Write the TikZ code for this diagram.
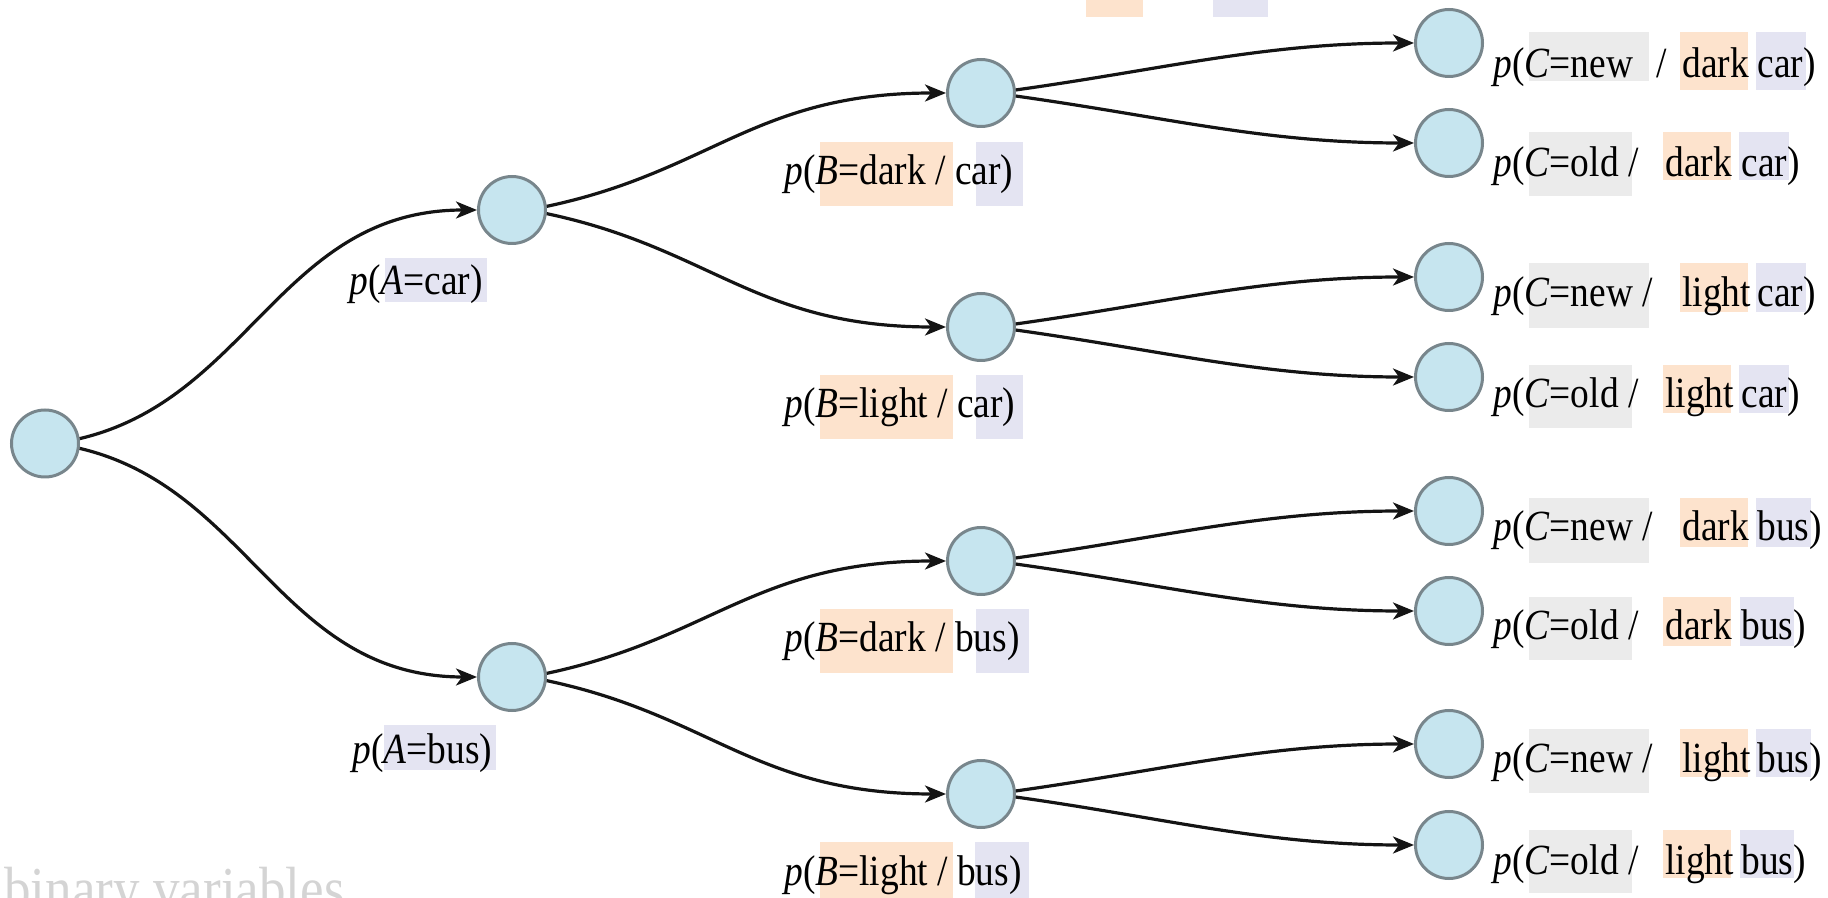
\documentclass[tikz,border=0pt]{standalone}
\usepackage{fontspec}
\setmainfont{Liberation Serif}[FakeStretch=0.87]
\usetikzlibrary{arrows.meta}
\definecolor{nodefill}{RGB}{198,229,239}
\definecolor{nodeline}{RGB}{120,134,140}
\definecolor{hlorange}{RGB}{253,227,205}
\definecolor{hlviolet}{RGB}{228,228,242}
\definecolor{hlgrey}{RGB}{235,235,235}
\definecolor{faint}{RGB}{212,212,212}
\begin{document}
\begin{tikzpicture}[x=0.5pt,y=-0.5pt,
  vnode/.style={circle, draw=nodeline, fill=nodefill, line width=1.5pt,
                minimum size=33.5pt, inner sep=0pt},
  branch/.style={line width=1.6pt, draw=black!92,
                 -{Stealth[length=10.5pt,width=8.5pt,inset=3pt]}},
  lbl/.style={anchor=base west, inner sep=0pt,
              font=\fontsize{21.5pt}{24pt}\selectfont},
]
\clip (0,0) rectangle (1828,898);

% ---------- highlight boxes behind the labels ----------
\fill[hlorange] (1086,0) rectangle (1143,17);
\fill[hlviolet] (1213,0) rectangle (1268,17);

% level A
\fill[hlviolet] (385,258) rectangle (487,302);
\fill[hlviolet] (384,725) rectangle (496,770);

% level B
\fill[hlorange] (820,142) rectangle (953,206);
\fill[hlviolet] (976,142) rectangle (1023,206);
\fill[hlorange] (820,375) rectangle (953,439);
\fill[hlviolet] (976,375) rectangle (1023,439);
\fill[hlorange] (820,609) rectangle (953,673);
\fill[hlviolet] (976,609) rectangle (1029,673);
\fill[hlorange] (820,842) rectangle (953,906);
\fill[hlviolet] (975,842) rectangle (1029,906);

% level C
\fill[hlgrey]   (1529,32) rectangle (1649,81);
\fill[hlorange] (1680,32) rectangle (1748,90);
\fill[hlviolet] (1756,32) rectangle (1806,90);

\fill[hlgrey]   (1529,132) rectangle (1632,196);
\fill[hlorange] (1663,132) rectangle (1731,180);
\fill[hlviolet] (1739,132) rectangle (1789,180);

\fill[hlgrey]   (1529,263) rectangle (1649,328);
\fill[hlorange] (1680,263) rectangle (1748,312);
\fill[hlviolet] (1756,263) rectangle (1806,312);

\fill[hlgrey]   (1529,365) rectangle (1632,428);
\fill[hlorange] (1663,365) rectangle (1731,413);
\fill[hlviolet] (1739,365) rectangle (1789,413);

\fill[hlgrey]   (1529,498) rectangle (1649,563);
\fill[hlorange] (1680,498) rectangle (1748,547);
\fill[hlviolet] (1756,498) rectangle (1811,547);

\fill[hlgrey]   (1529,597) rectangle (1632,660);
\fill[hlorange] (1663,597) rectangle (1731,646);
\fill[hlviolet] (1740,597) rectangle (1794,646);

\fill[hlgrey]   (1529,729) rectangle (1649,793);
\fill[hlorange] (1680,729) rectangle (1748,777);
\fill[hlviolet] (1756,729) rectangle (1811,777);

\fill[hlgrey]   (1529,830) rectangle (1632,893);
\fill[hlorange] (1663,830) rectangle (1731,878);
\fill[hlviolet] (1740,830) rectangle (1794,878);

% ---------- tree nodes ----------
\node[vnode] (r)  at (45,443.5) {};
\node[vnode] (a1) at (512,210) {};
\node[vnode] (a2) at (512,677) {};
\node[vnode] (b1) at (981,93) {};
\node[vnode] (b2) at (981,327) {};
\node[vnode] (b3) at (981,561) {};
\node[vnode] (b4) at (981,794) {};
\node[vnode] (c1) at (1449,43) {};
\node[vnode] (c2) at (1449,143) {};
\node[vnode] (c3) at (1449,277) {};
\node[vnode] (c4) at (1449,377) {};
\node[vnode] (c5) at (1449,511) {};
\node[vnode] (c6) at (1449,611) {};
\node[vnode] (c7) at (1449,744) {};
\node[vnode] (c8) at (1449,845) {};

% ---------- branches ----------
\draw[branch] (r.8)  .. controls +(170,-40) and +(-195,0) .. (a1.west);
\draw[branch] (r.-8) .. controls +(170,40)  and +(-195,0) .. (a2.west);

\foreach \s/\u/\l in {a1/b1/b2, a2/b3/b4}{
  \draw[branch] (\s.6)  .. controls +(165,-35) and +(-190,0) .. (\u.west);
  \draw[branch] (\s.-6) .. controls +(165,35)  and +(-190,0) .. (\l.west);
}
\foreach \s/\u/\l in {b1/c1/c2, b2/c3/c4, b3/c5/c6, b4/c7/c8}{
  \draw[branch] (\s.5)  .. controls +(150,-21) and +(-150,0) .. (\u.west);
  \draw[branch] (\s.-5) .. controls +(150,21)  and +(-150,0) .. (\l.west);
}

% ---------- labels ----------
\node[lbl] (la1) at (349,295) {\textit{p}(\textit{A}=car)};
\node[lbl] (la2) at (352,763) {\textit{p}(\textit{A}=bus)};

\node[lbl] (lb1) at (784,185) {\textit{p}(\textit{B}=dark / car)};
\node[lbl] (lb2) at (784,418) {\textit{p}(\textit{B}=light / car)};
\node[lbl] (lb3) at (784,652) {\textit{p}(\textit{B}=dark / bus)};
\node[lbl] (lb4) at (784,885) {\textit{p}(\textit{B}=light / bus)};

\node[lbl] (lc1p) at (1493,78) {\textit{p}(\textit{C}=new};
\node[lbl] (lc1s) at (1656,78) {/};
\node[lbl] (lc1m) at (1682,78) {dark};
\node[lbl] (lc1e) at (1757,78) {car)};

\node[lbl] (lc2p) at (1493,177) {\textit{p}(\textit{C}=old /};
\node[lbl] (lc2m) at (1665,177) {dark};
\node[lbl] (lc2e) at (1741,177) {car)};

\node[lbl] (lc3p) at (1493,307) {\textit{p}(\textit{C}=new /};
\node[lbl] (lc3m) at (1682,307) {light};
\node[lbl] (lc3e) at (1757,307) {car)};

\node[lbl] (lc4p) at (1493,408) {\textit{p}(\textit{C}=old /};
\node[lbl] (lc4m) at (1665,408) {light};
\node[lbl] (lc4e) at (1741,408) {car)};

\node[lbl] (lc5p) at (1493,541) {\textit{p}(\textit{C}=new /};
\node[lbl] (lc5m) at (1682,541) {dark};
\node[lbl] (lc5e) at (1757,541) {bus)};

\node[lbl] (lc6p) at (1493,640) {\textit{p}(\textit{C}=old /};
\node[lbl] (lc6m) at (1665,640) {dark};
\node[lbl] (lc6e) at (1741,640) {bus)};

\node[lbl] (lc7p) at (1493,773) {\textit{p}(\textit{C}=new /};
\node[lbl] (lc7m) at (1682,773) {light};
\node[lbl] (lc7e) at (1757,773) {bus)};

\node[lbl] (lc8p) at (1493,874) {\textit{p}(\textit{C}=old /};
\node[lbl] (lc8m) at (1665,874) {light};
\node[lbl] (lc8e) at (1741,874) {bus)};

% ---------- caption, running off the lower edge ----------
\node[anchor=base west, inner sep=0pt, text=faint,
      font=\fontsize{30.5pt}{34pt}\selectfont] (cap) at (4,909) {binary variables};
\end{tikzpicture}
\end{document}
